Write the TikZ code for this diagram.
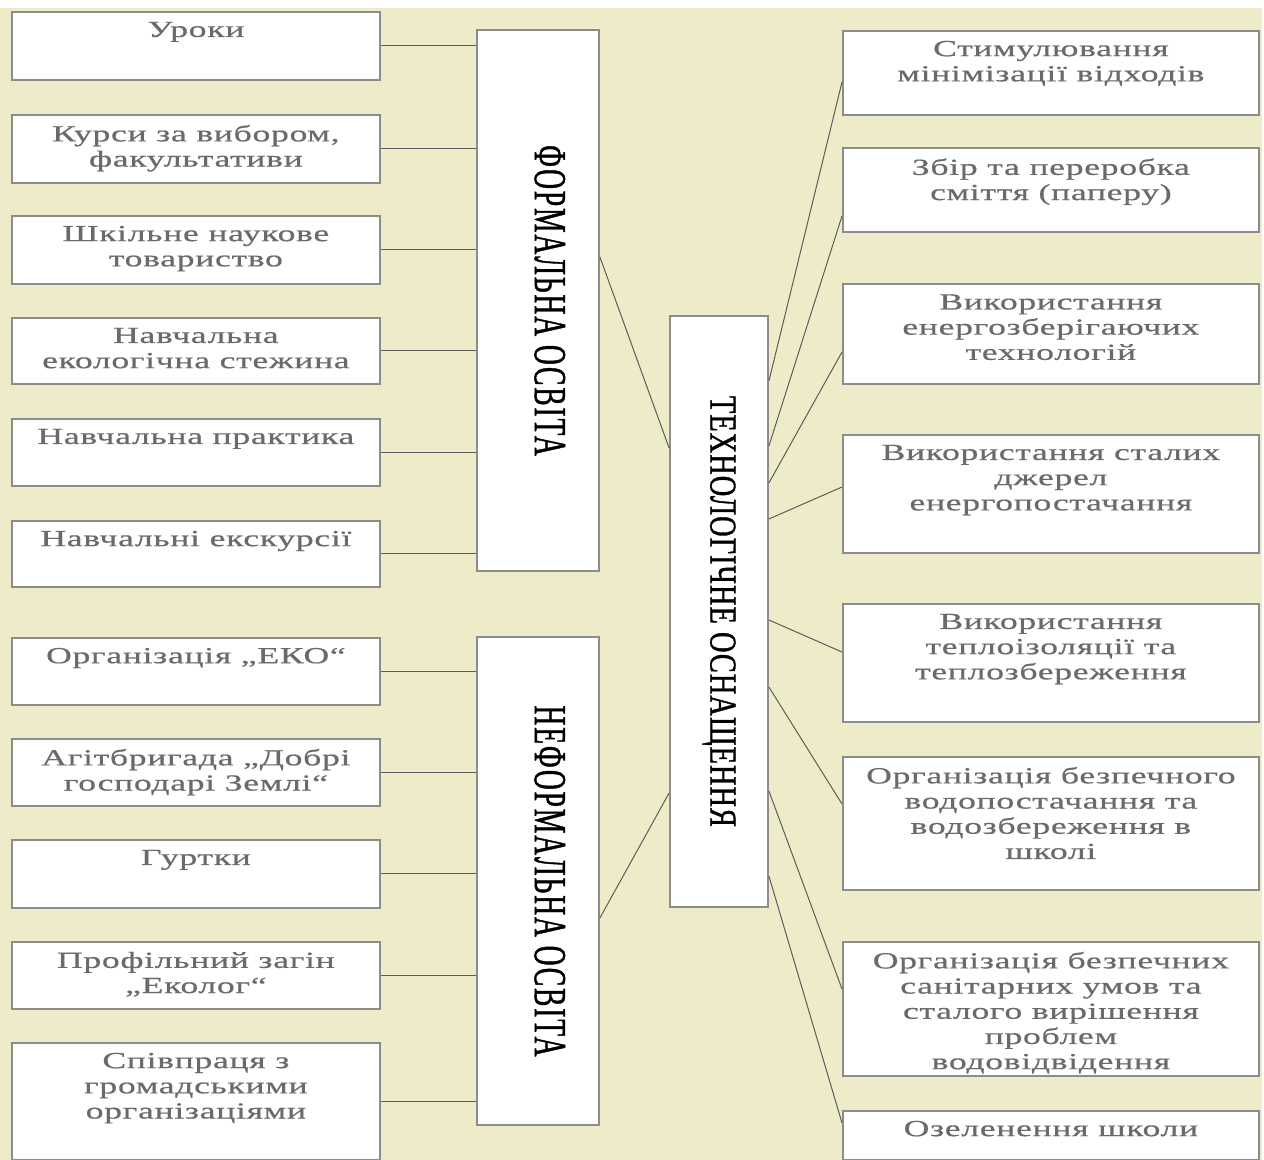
\documentclass[tikz,border=0pt]{standalone}
\usepackage{fontspec}
\setmainfont{Liberation Serif}[FakeStretch=1.55,LetterSpace=3,FakeBold=0.6]
\newfontfamily\headfont{Liberation Serif}[FakeStretch=0.6,LetterSpace=4,FakeBold=0.9]
\newfontfamily\techfont{Liberation Serif}[FakeStretch=0.75,LetterSpace=2.5,FakeBold=0.9]
\usepackage{graphicx}
\usetikzlibrary{positioning}
\definecolor{PaperBeige}{HTML}{EEECC8}
\definecolor{BoxGrey}{HTML}{8C8C8C}
\definecolor{TextGrey}{HTML}{6A6A6A}
\definecolor{LineGrey}{HTML}{5C5C5C}
% text block pinned to the top of a box of fixed height
\newcommand{\topcell}[3]{\parbox[t][#2][t]{#1}{\centering #3}}

\begin{document}
\begin{tikzpicture}[x=0.5pt, y=-0.5pt,
    item/.style={draw=BoxGrey, line width=0.9pt, fill=white, anchor=north west,
        inner xsep=3pt, inner ysep=5pt, text=TextGrey,
        font=\fontsize{11.5}{12.6}\selectfont},
    head/.style={draw=BoxGrey, line width=0.9pt, fill=white, inner sep=0pt,
        font=\headfont\fontsize{23}{26}\selectfont},
    link/.style={draw=LineGrey, line width=0.5pt}]
    \useasboundingbox (0,0) rectangle (1264,1160);
    \fill[white] (0,0) rectangle (1264,1160);
    \fill[PaperBeige] (0,8) rectangle (1262,1160);

    % left column
    \node[item] (l1) at (11,11) {\topcell{178pt}{24pt}{Уроки}};
    \node[item] (l2) at (11,114) {\topcell{178pt}{24pt}{Курси за вибором,\\факультативи}};
    \node[item] (l3) at (11,215) {\topcell{178pt}{24pt}{Шкільне наукове\\товариство}};
    \node[item] (l4) at (11,317) {\topcell{178pt}{23pt}{Навчальна\\екологічна стежина}};
    \node[item] (l5) at (11,418) {\topcell{178pt}{23.5pt}{Навчальна практика}};
    \node[item] (l6) at (11,520) {\topcell{178pt}{23pt}{Навчальні екскурсії}};
    \node[item] (l7) at (11,637) {\topcell{178pt}{23.5pt}{Організація „ЕКО“}};
    \node[item] (l8) at (11,738) {\topcell{178pt}{23.5pt}{Агітбригада „Добрі\\господарі Землі“}};
    \node[item] (l9) at (11,839) {\topcell{178pt}{24pt}{Гуртки}};
    \node[item] (l10) at (11,941) {\topcell{178pt}{23.5pt}{Профільний загін\\„Еколог“}};
    \node[item] (l11) at (11,1042) {\topcell{178pt}{48.5pt}{Співпраця з\\громадськими\\організаціями}};

    % middle column
    \node[head, minimum width=61pt, minimum height=270.5pt] (form) at (538,300.5) {\rotatebox{-90}{\rule[-12pt]{0pt}{12pt}ФОРМАЛЬНА ОСВІТА}};
    \node[head, minimum width=61pt, minimum height=244pt] (nonform) at (538,881) {\rotatebox{-90}{\rule[-12pt]{0pt}{12pt}НЕФОРМАЛЬНА ОСВІТА}};
    \node[head, minimum width=49pt, minimum height=295.5pt, font=\techfont\fontsize{19}{22}\selectfont] (tech) at (719,611.5) {\rotatebox{-90}{ТЕХНОЛОГІЧНЕ ОСНАЩЕННЯ}};

    % right column
    \node[item] (r1) at (842,30) {\topcell{202pt}{32pt}{Стимулювання\\мінімізації відходів}};
    \node[item] (r2) at (842,147.5) {\topcell{202pt}{32pt}{Збір та переробка\\сміття (паперу)}};
    \node[item] (r3) at (842,283.5) {\topcell{202pt}{40pt}{Використання\\енергозберігаючих\\технологій}};
    \node[item] (r4) at (842,434) {\topcell{202pt}{49pt}{Використання сталих\\джерел\\енергопостачання}};
    \node[item] (r5) at (842,603) {\topcell{202pt}{49pt}{Використання\\теплоізоляції та\\теплозбереження}};
    \node[item] (r6) at (842,756) {\topcell{202pt}{56.5pt}{Організація безпечного\\водопостачання та\\водозбереження в\\школі}};
    \node[item] (r7) at (842,941) {\topcell{202pt}{57pt}{Організація безпечних\\санітарних умов та\\сталого вирішення\\проблем\\водовідвідення}};
    \node[item] (r8) at (842,1110) {\topcell{202pt}{14.5pt}{Озеленення школи}};

    \draw[link] (l1.east) -- (l1.east -| form.west);
    \draw[link] (l2.east) -- (l2.east -| form.west);
    \draw[link] (l3.east) -- (l3.east -| form.west);
    \draw[link] (l4.east) -- (l4.east -| form.west);
    \draw[link] (l5.east) -- (l5.east -| form.west);
    \draw[link] (l6.east) -- (l6.east -| form.west);
    \draw[link] (l7.east) -- (l7.east -| nonform.west);
    \draw[link] (l8.east) -- (l8.east -| nonform.west);
    \draw[link] (l9.east) -- (l9.east -| nonform.west);
    \draw[link] (l10.east) -- (l10.east -| nonform.west);
    \draw[link] (l11.east) -- (l11.east -| nonform.west);

    \draw[link] (form.east |- 0,257) -- (tech.west |- 0,448);
    \draw[link] (nonform.east |- 0,918) -- (tech.west |- 0,793);

    \draw[link] (tech.east |- 0,381) -- (r1.west |- 0,82);
    \draw[link] (tech.east |- 0,446) -- (r2.west |- 0,216);
    \draw[link] (tech.east |- 0,483) -- (r3.west |- 0,352);
    \draw[link] (tech.east |- 0,519) -- (r4.west |- 0,487);
    \draw[link] (tech.east |- 0,620) -- (r5.west |- 0,652);
    \draw[link] (tech.east |- 0,687) -- (r6.west |- 0,804);
    \draw[link] (tech.east |- 0,791) -- (r7.west |- 0,989);
    \draw[link] (tech.east |- 0,876) -- (r8.west |- 0,1123);
\end{tikzpicture}
\end{document}
